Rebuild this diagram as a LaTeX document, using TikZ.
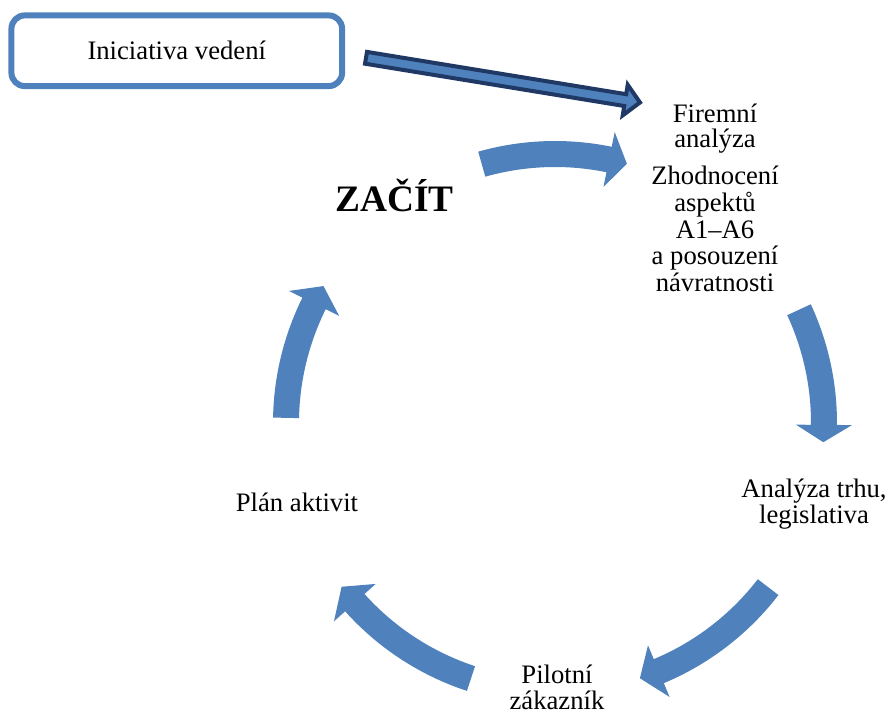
\documentclass[tikz,border=0pt]{standalone}
\usepackage{fontspec}
\setmainfont{Liberation Serif}
\definecolor{sablue}{RGB}{79,129,189}
\definecolor{navyline}{RGB}{31,56,100}
\newcommand\cycarrow[3]{%
  \fill[sablue] (#1:282) arc[start angle=#1, end angle=#2, radius=282]
    -- (#2:297) -- (#3:269) -- (#2:241) -- (#2:256)
    arc[start angle=#2, end angle=#1, radius=256] -- cycle;}
\begin{document}
\begin{tikzpicture}[x=0.75pt,y=0.75pt,
  lbl/.style={font=\fontsize{20}{19.5}\selectfont, inner sep=0pt, align=center, anchor=base},
  initbox/.style={draw=sablue, line width=4.5pt, rounded corners=10pt,
    minimum width=248pt, minimum height=53pt, inner sep=0pt,
    font=\fontsize{20}{24}\selectfont},
  darrow/.style={draw=navyline, line width=3pt, fill=sablue, line join=miter}]
\useasboundingbox (0,0) rectangle (888,-713);
% initiative box
\node[initbox] (init) at (176.75,-50.75) {Iniciativa vedení};
% dark block arrow
\draw[darrow] (367,-51.9) -- (626.2,-94.2) -- (627.7,-84.8) -- (640,-102.5)
  -- (622.7,-115.4) -- (624.2,-106.0) -- (365,-63.7) -- cycle;
% cycle arrows
\begin{scope}[shift={(555,-423)}]
  \cycarrow{105.8}{78.4}{74.5}
  \cycarrow{24.9}{-0.4}{-4.1}
  \cycarrow{-37.6}{-67.3}{-71.6}
  \cycarrow{-108.2}{-138.1}{-142.5}
  \cycarrow{178.9}{153.6}{149.4}
\end{scope}
% texts (anchor=base is the baseline of the last line)
\node[font=\bfseries\fontsize{28}{30}\selectfont, inner sep=0pt, anchor=base] (start) at (394.5,-211) {ZAČÍT};
\node[lbl, font=\fontsize{20}{18.45}\selectfont] (firm) at (715,-147.3) {Firemní\\analýza};
\node[lbl, font=\fontsize{20}{20.1}\selectfont] (eval) at (715,-291.7) {Zhodnocení\\aspektů\\A1–A6\\a posouzení\\návratnosti};
\node[lbl] (market) at (814,-523.3) {Analýza trhu,\\legislativa};
\node[lbl] (pilot) at (557,-709) {Pilotní\\zákazník};
\node[lbl] (plan) at (297,-511) {Plán aktivit};
\end{tikzpicture}
\end{document}
